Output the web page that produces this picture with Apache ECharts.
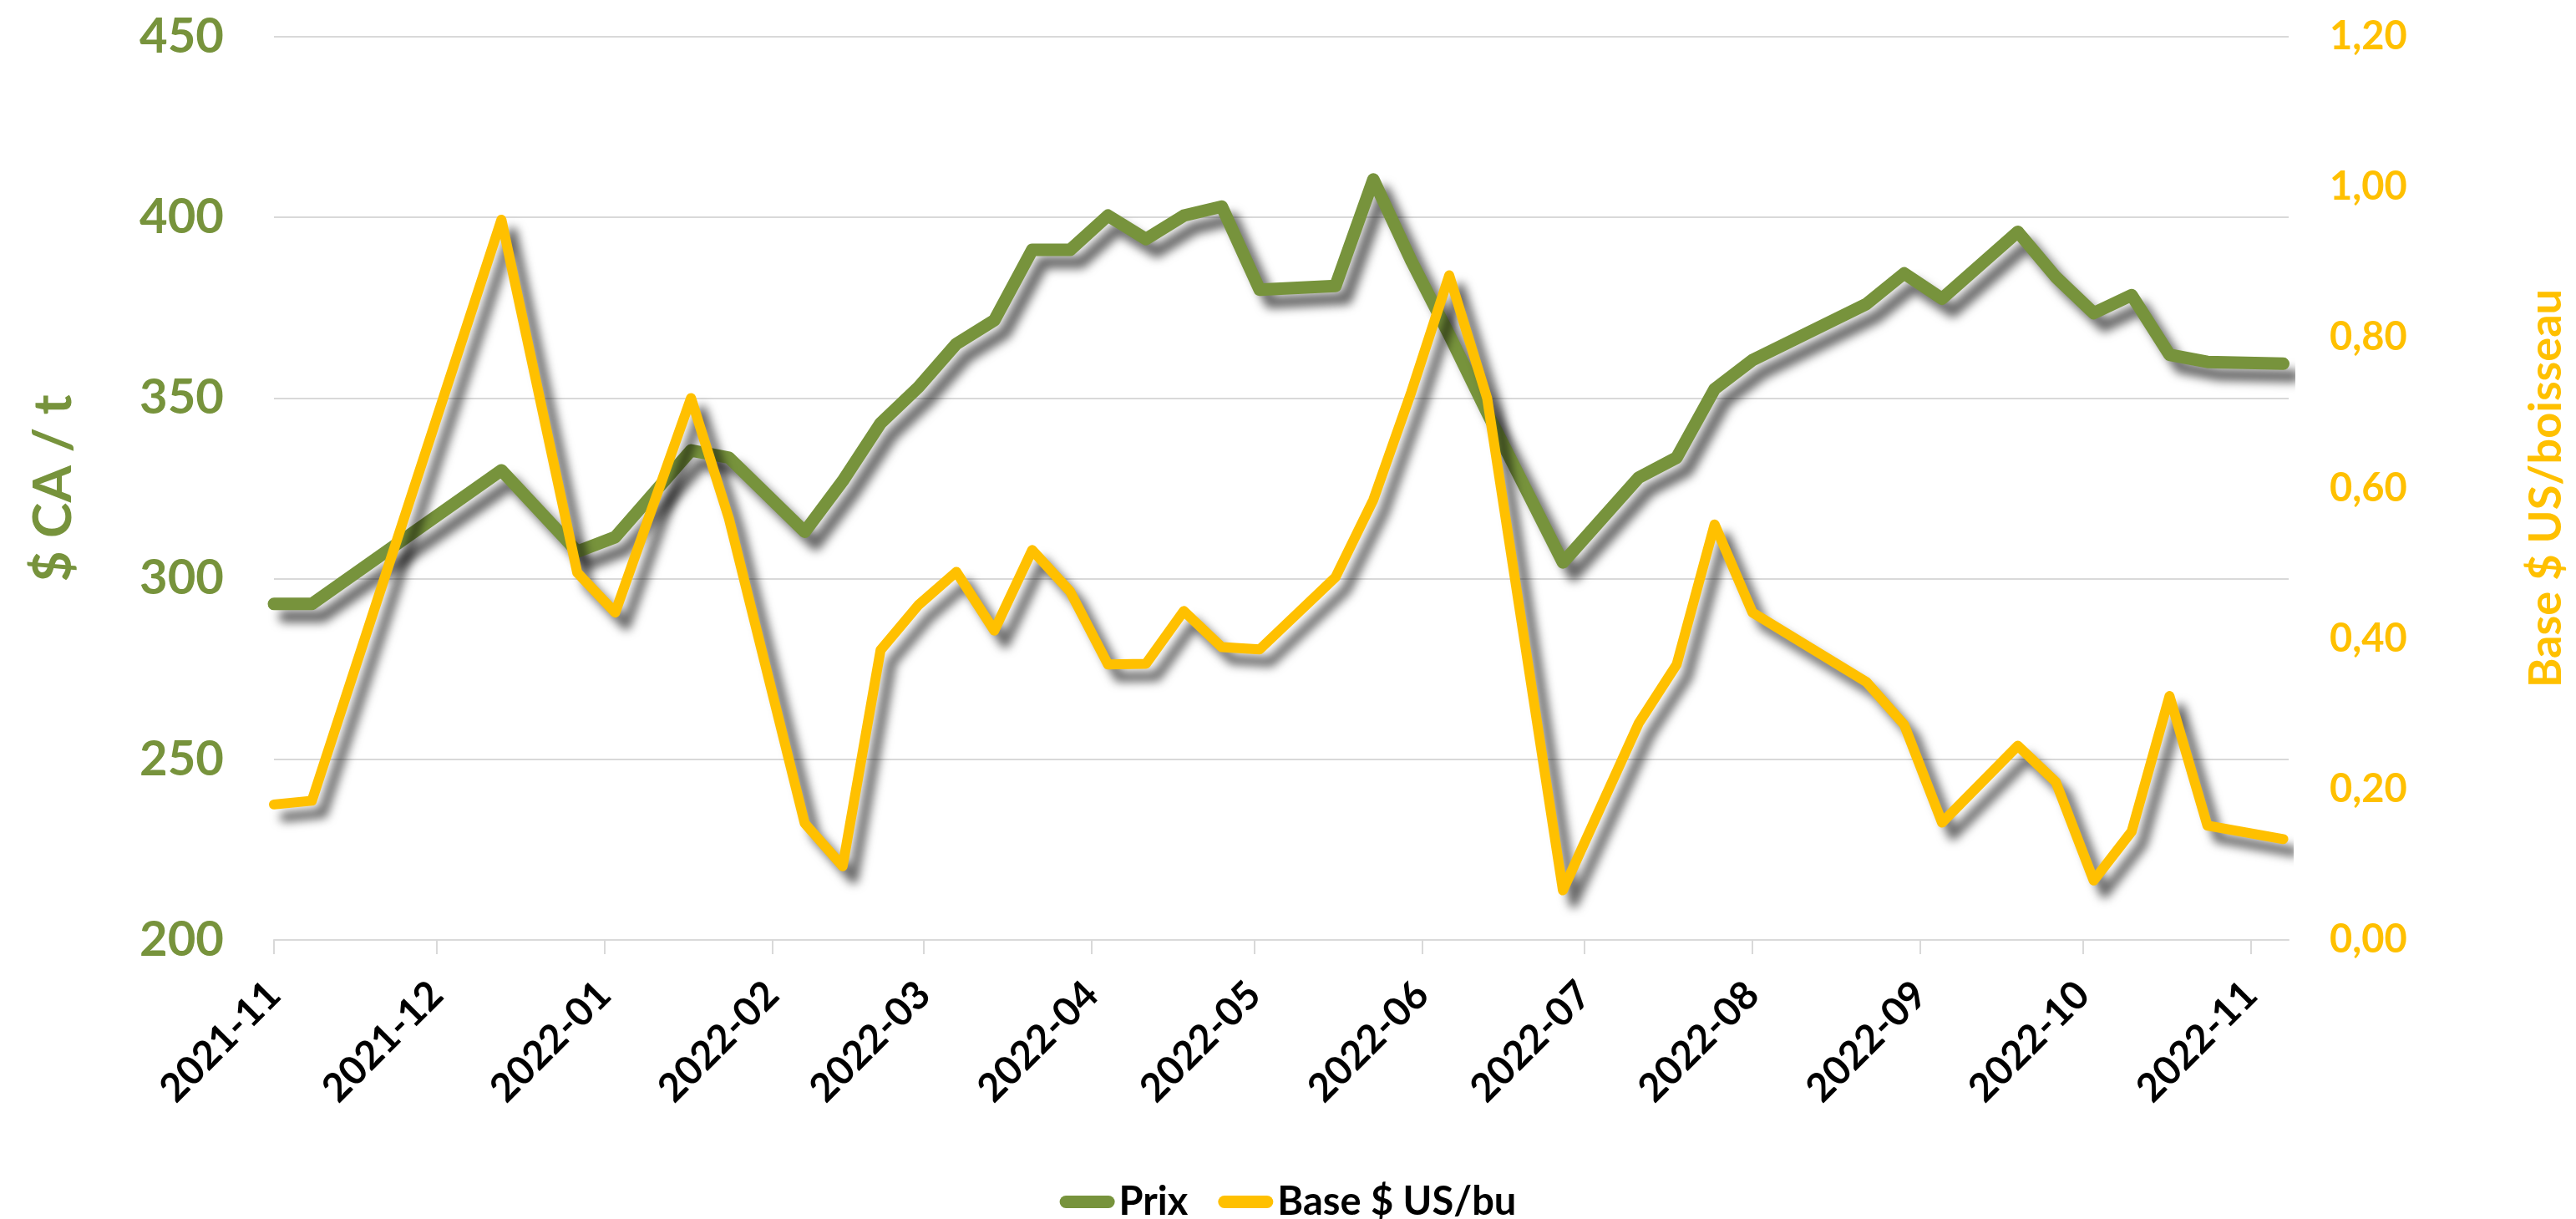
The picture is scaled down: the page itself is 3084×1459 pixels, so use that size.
<!DOCTYPE html>
<html>
<head>
<meta charset="utf-8">
<title>Prix et base</title>
<script src="https://cdn.jsdelivr.net/npm/echarts@6/dist/echarts.min.js"></script>
<style>
  html, body { margin: 0; padding: 0; background: #fff; }
  #chart { width: 3084px; height: 1459px; }
</style>
</head>
<body>
<div id="chart"></div>
<script>
// dates des relevés (lundis)
var dates = [
  '2021-11-01', '2021-11-08', '2021-12-13', '2021-12-27', '2022-01-03',
  '2022-01-17', '2022-01-24', '2022-02-07', '2022-02-14', '2022-02-21',
  '2022-02-28', '2022-03-07', '2022-03-14', '2022-03-21', '2022-03-28',
  '2022-04-04', '2022-04-11', '2022-04-18', '2022-04-25', '2022-05-02',
  '2022-05-16', '2022-05-23', '2022-05-30', '2022-06-06', '2022-06-13',
  '2022-06-27', '2022-07-11', '2022-07-18', '2022-07-25', '2022-08-01',
  '2022-08-22', '2022-08-29', '2022-09-05', '2022-09-19', '2022-09-26',
  '2022-10-03', '2022-10-10', '2022-10-17', '2022-10-24', '2022-11-07'
];
// prix $ CA / t
var prix = [
  293, 293, 330, 307.5, 311.5,
  335.5, 333.5, 313, 327, 343,
  353, 365, 371.5, 391, 391,
  400.5, 394, 400.5, 403, 380,
  381, 410.5, 388, 367.5, 346,
  304.5, 328, 333.5, 352.5, 360.5,
  376, 384.5, 377.5, 396, 383.5,
  373.5, 378.5, 362, 360, 359.5
];
// base $ US / boisseau
var base = [
  0.18, 0.185, 0.957, 0.488, 0.435,
  0.72, 0.56, 0.155, 0.098, 0.385,
  0.445, 0.489, 0.411, 0.518, 0.463,
  0.366, 0.367, 0.437, 0.389, 0.386,
  0.482, 0.585, 0.728, 0.883, 0.72,
  0.066, 0.288, 0.366, 0.552, 0.435,
  0.343, 0.286, 0.156, 0.258, 0.21,
  0.079, 0.144, 0.324, 0.152, 0.134
];
// étiquettes de l'axe des dates
var monthLabels = [
  '2021-11', '2021-12', '2022-01', '2022-02', '2022-03', '2022-04', '2022-05',
  '2022-06', '2022-07', '2022-08', '2022-09', '2022-10', '2022-11'
];

var GREEN = '#77933C';
var YELLOW = '#FFC000';
var FONT = 'Lato';

function ts(s) {
  var p = s.split('-');
  return new Date(+p[0], +p[1] - 1, p[2] ? +p[2] : 1).getTime();
}
var monthTicks = monthLabels.map(ts);

var shadow = {
  shadowColor: 'rgba(0,0,0,0.6)',
  shadowBlur: 12,
  shadowOffsetX: 13,
  shadowOffsetY: 15
};

var chart = echarts.init(document.getElementById('chart'));
chart.setOption({
  animation: false,
  backgroundColor: '#fff',
  textStyle: { fontFamily: FONT },
  grid: { left: 328, right: 336, top: 44, bottom: 334, containLabel: false },
  legend: {
    top: 1410,
    left: 'center',
    itemWidth: 66,
    itemHeight: 15,
    itemGap: 36,
    icon: 'path://M7.5,0 H58.5 A7.5,7.5 0 0 1 58.5,15 H7.5 A7.5,7.5 0 0 1 7.5,0 Z',
    textStyle: { fontFamily: FONT, fontSize: 47, fontWeight: 'bold', color: '#000' },
    data: ['Prix', 'Base $ US/bu']
  },
  xAxis: {
    type: 'value',
    min: ts('2021-11-01'),
    max: ts('2022-11-08'),
    axisLine: { show: true, lineStyle: { color: '#D9D9D9', width: 2 } },
    axisTick: { show: true, length: 17, lineStyle: { color: '#D9D9D9', width: 2 }, customValues: monthTicks },
    splitLine: { show: false },
    axisLabel: {
      customValues: monthTicks,
      rotate: 45,
      margin: 58,
      fontFamily: FONT,
      fontSize: 47,
      fontWeight: 'bold',
      color: '#000',
      formatter: function (v) {
        var i = monthTicks.indexOf(v);
        return i >= 0 ? monthLabels[i] : '';
      }
    }
  },
  yAxis: [
    {
      type: 'value',
      min: 200,
      max: 450,
      interval: 50,
      name: '$ CA / t',
      nameLocation: 'middle',
      nameRotate: 90,
      nameGap: 232,
      nameTextStyle: { fontFamily: FONT, fontSize: 64, fontWeight: 'bold', color: GREEN },
      axisLine: { show: false },
      axisTick: { show: false },
      splitLine: { show: true, lineStyle: { color: '#D9D9D9', width: 2 } },
      axisLabel: { margin: 60, fontFamily: FONT, fontSize: 58, fontWeight: 'bold', color: GREEN }
    },
    {
      type: 'value',
      min: 0,
      max: 1.2,
      interval: 0.2,
      name: 'Base $ US/boisseau',
      nameLocation: 'middle',
      nameRotate: 90,
      nameGap: 282,
      nameTextStyle: { fontFamily: FONT, fontSize: 54, fontWeight: 'bold', color: YELLOW },
      axisLine: { show: false },
      axisTick: { show: false },
      splitLine: { show: false },
      axisLabel: {
        margin: 49,
        fontFamily: FONT,
        fontSize: 47,
        fontWeight: 'bold',
        color: YELLOW,
        formatter: function (v) { return v.toFixed(2).replace('.', ','); }
      }
    }
  ],
  series: [
    {
      name: 'Prix',
      type: 'line',
      yAxisIndex: 0,
      showSymbol: false,
      symbol: 'none',
      color: GREEN,
      lineStyle: Object.assign({ color: GREEN, width: 15, cap: 'round', join: 'round' }, shadow),
      data: dates.map(function (d, i) { return [ts(d), prix[i]]; })
    },
    {
      name: 'Base $ US/bu',
      type: 'line',
      yAxisIndex: 1,
      showSymbol: false,
      symbol: 'none',
      color: YELLOW,
      lineStyle: Object.assign({ color: YELLOW, width: 12, cap: 'round', join: 'round' }, shadow),
      data: dates.map(function (d, i) { return [ts(d), base[i]]; })
    }
  ]
});
</script>
</body>
</html>
